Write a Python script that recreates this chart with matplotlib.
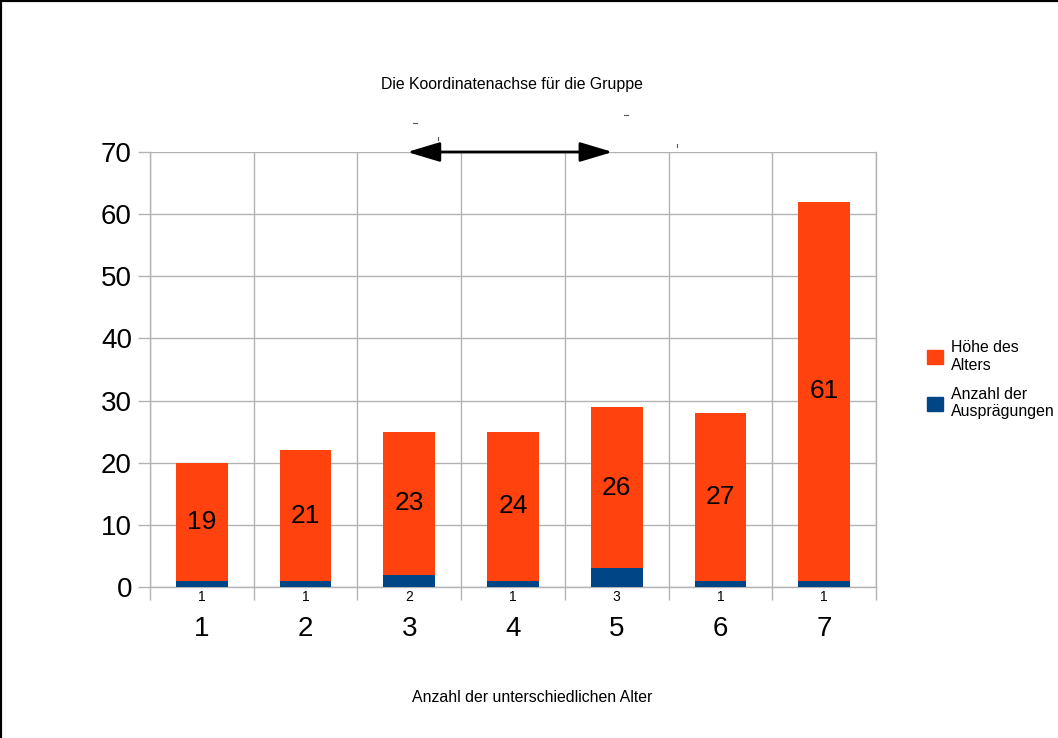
import matplotlib
matplotlib.use("Agg")
import matplotlib.pyplot as plt
from matplotlib.lines import Line2D
from matplotlib.patches import Patch
import numpy as np

categories = ["1", "2", "3", "4", "5", "6", "7"]
counts = [1, 1, 2, 1, 3, 1, 1]          # Anzahl der Ausprägungen
ages = [19, 21, 23, 24, 26, 27, 61]      # Höhe des Alters
y_ticks = [0, 10, 20, 30, 40, 50, 60, 70]

plt.rcParams["font.family"] = ["Liberation Sans", "DejaVu Sans"]

orange = "#FF420E"
blue = "#004586"
grid = "#b3b3b3"

fig = plt.figure(figsize=(10.58, 7.38), dpi=100)
ax = fig.add_axes([150 / 1058, 1 - 587 / 738, 726 / 1058, 435 / 738])

x = np.arange(len(categories))
ax.bar(x, counts, width=0.5, color=blue, zorder=3)
ax.bar(x, ages, width=0.5, bottom=counts, color=orange, zorder=3)

for xi, c, a in zip(x, counts, ages):
    ax.text(xi, c + a / 2, str(a), ha="center", va="center", fontsize=19, zorder=4)
    ax.annotate(str(c), (xi, 0), xytext=(0, -10), textcoords="offset pixels",
                ha="center", va="center", fontsize=10)

ax.set_xlim(-0.5, len(categories) - 0.5)
ax.set_ylim(0, 70)
ax.set_yticks(y_ticks)
ax.set_xticks(x)
ax.set_xticklabels(categories, fontsize=20)
ax.set_xticks(np.arange(len(categories) + 1) - 0.5, minor=True)
ax.tick_params(axis="x", which="major", length=0, pad=21)
ax.tick_params(axis="x", which="minor", length=9.5, color=grid, width=1)
ax.tick_params(axis="y", length=9, color=grid, width=1, labelsize=20, pad=4)
ax.grid(True, axis="y", color=grid, linewidth=1, zorder=0)
ax.grid(True, axis="x", which="minor", color=grid, linewidth=1, zorder=0)
for s in ["top", "right", "left", "bottom"]:
    ax.spines[s].set_color(grid)
    ax.spines[s].set_linewidth(1)
ax.spines["top"].set_visible(False)

# double-headed arrow spanning groups 3 to 5
ax.annotate("", xy=(1.98, 70), xytext=(3.96, 70), annotation_clip=False,
            arrowprops=dict(arrowstyle="<|-|>,head_length=1.0,head_width=0.3", color="black", lw=2,
                            mutation_scale=20, shrinkA=0, shrinkB=0), zorder=5)

# stray marks from the original drawing
for (px, py, dx, dy) in [(413, 123, 4, 0), (438, 137, 0, 3), (624, 115, 4, 0), (677, 144, 0, 3)]:
    fig.add_artist(Line2D([px / 1058, (px + dx) / 1058],
                          [1 - py / 738, 1 - (py + dy) / 738], color="#555555", lw=0.8))

fig.text(512 / 1058, 1 - 84 / 738, "Die Koordinatenachse für die Gruppe",
         ha="center", va="center", fontsize=11.4)
fig.text(532 / 1058, 1 - 697 / 738, "Anzahl der unterschiedlichen Alter",
         ha="center", va="center", fontsize=11.4)

handles = [Patch(color=orange, label="Höhe des\nAlters"),
           Patch(color=blue, label="Anzahl der\nAusprägungen")]
fig.legend(handles=handles, loc="upper left", bbox_to_anchor=(913 / 1058, 1 - 326 / 738),
           frameon=False, fontsize=11.4, handlelength=1.0, handleheight=1.0,
           handletextpad=0.5, labelspacing=0.9)

# black border along top and left edge
fig.add_artist(Line2D([0, 0, 1], [0, 1, 1], color="black", lw=3))

fig.savefig("out.png", dpi=100)
